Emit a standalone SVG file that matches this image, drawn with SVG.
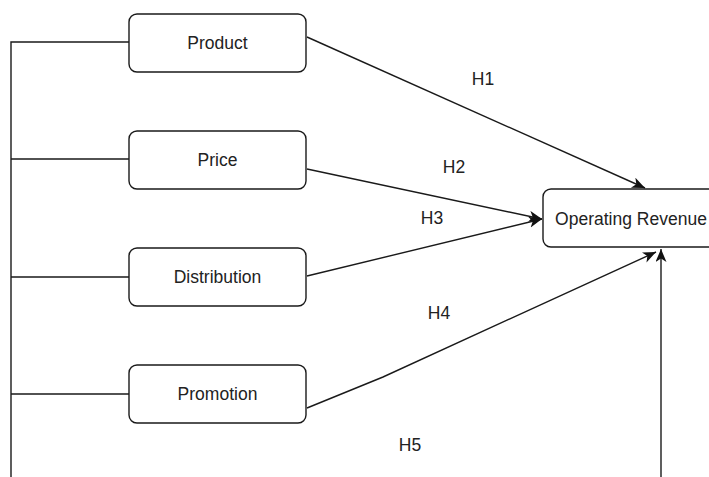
<svg xmlns="http://www.w3.org/2000/svg" width="709" height="477" viewBox="0 0 709 477">
  <style>
    .box { fill: #ffffff; stroke: #1a1a1a; stroke-width: 1.4; }
    .lbl { font-family: "Liberation Sans", Arial, sans-serif; font-size: 17.5px; fill: #222222; text-anchor: middle; dominant-baseline: central; }
    .edge { fill: none; stroke: #1a1a1a; stroke-width: 1.4; }
    .arrow { marker-end: url(#head); }
  </style>
  <defs>
    <marker id="head" markerUnits="userSpaceOnUse" markerWidth="16" markerHeight="14" refX="13" refY="5.5" orient="auto">
      <path d="M0,0 L13,5.5 L0,11 L3.5,5.5 Z" fill="#111111"/>
    </marker>
  </defs>
  <rect width="709" height="477" fill="#ffffff"/>

  <g id="connectors">
    <!-- shared spine feeding all four mix elements -->
    <path class="edge" d="M11,477 V42 H129 M11,159 H129 M11,277 H129 M11,394 H129"/>
    <!-- hypotheses H1..H5 -->
    <path class="edge arrow" d="M307,37 L645,188"/>
    <path class="edge arrow" d="M307,169 L542,219"/>
    <path class="edge arrow" d="M307,276 L542,219"/>
    <path class="edge arrow" d="M307,408 L383,377 L656,252"/>
    <path class="edge arrow" d="M661,477 V249"/>
  </g>

  <g id="edge-labels">
    <text class="lbl" x="483" y="79">H1</text>
    <text class="lbl" x="454" y="167">H2</text>
    <text class="lbl" x="432" y="218">H3</text>
    <text class="lbl" x="439" y="313">H4</text>
    <text class="lbl" x="410" y="445">H5</text>
  </g>

  <g id="product">
    <rect class="box" x="129" y="14" width="177" height="58" rx="8"/>
    <text class="lbl" x="217.5" y="43">Product</text>
  </g>
  <g id="price">
    <rect class="box" x="129" y="131" width="177" height="58" rx="8"/>
    <text class="lbl" x="217.5" y="160">Price</text>
  </g>
  <g id="distribution">
    <rect class="box" x="129" y="248" width="177" height="58" rx="8"/>
    <text class="lbl" x="217.5" y="277">Distribution</text>
  </g>
  <g id="promotion">
    <rect class="box" x="129" y="365" width="177" height="58" rx="8"/>
    <text class="lbl" x="217.5" y="394">Promotion</text>
  </g>
  <g id="operating-revenue">
    <rect class="box" x="543" y="189" width="177" height="58" rx="8"/>
    <text class="lbl" x="631" y="218.5">Operating Revenue</text>
  </g>
</svg>
